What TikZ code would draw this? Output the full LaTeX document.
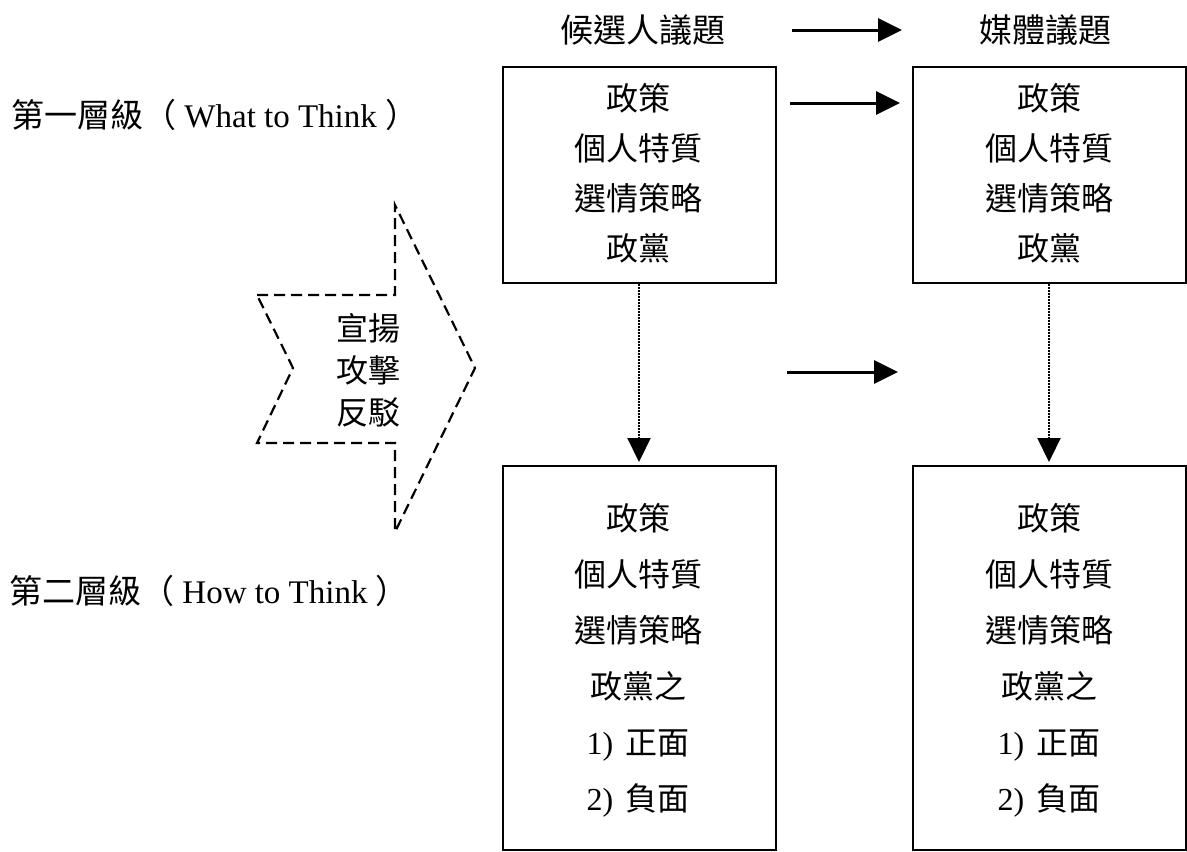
\documentclass[tikz,border=0pt]{standalone}
\usepackage{fontspec}
\setmainfont{Liberation Serif}
\newfontfamily\cjk{Noto Sans CJK TC}
\newfontfamily\lat{Liberation Serif}
\usetikzlibrary{arrows.meta}
\begin{document}
\begin{tikzpicture}[x=1pt,y=-1pt,
  box/.style={draw,line width=2pt,minimum width=273pt,inner sep=0pt},
  boxtxt/.style={font=\cjk\fontsize{32}{50}\selectfont,align=center,inner sep=0pt},
  boxtxtb/.style={font=\cjk\fontsize{32}{56}\selectfont,align=center,inner sep=0pt},
  head/.style={font=\cjk\fontsize{33}{40}\selectfont,inner sep=0pt},
  lvl/.style={font=\cjk\fontsize{33}{40}\selectfont,inner sep=0pt,anchor=west},
  solidarrow/.style={line width=3pt,-{Triangle[length=24pt,width=23pt]}},
  dotarrow/.style={line width=2.2pt,dash pattern=on 1.6pt off 1.4pt,-{Triangle[length=24pt,width=23pt]}},
  dashedshape/.style={line width=2.2pt,dash pattern=on 11pt off 6pt}
]
\useasboundingbox (0,0) rectangle (1187,852);

% headers
\node[head] (hcand) at (643,30) {候選人議題};
\node[head] (hmedia) at (1045,30) {媒體議題};
\coordinate (a1s) at (792,30);
\coordinate (a1e) at (902,30);
\draw[solidarrow] (a1s) -- (a1e);

% level labels
\node[lvl] (lvl1) at (11,115) {第一層級（{\lat\fontsize{33}{40}\selectfont\ What to Think\ }）};
\node[lvl] (lvl2) at (9,591) {第二層級（{\lat\fontsize{33}{40}\selectfont\ How to Think\ }）};

% first-level boxes
\node[box,minimum height=216pt] (b1) at (639,175) {};
\node[box,minimum height=216pt] (b2) at (1049,175) {};
\node[boxtxt] (t1) at (638,173) {政策\\個人特質\\選情策略\\政黨};
\node[boxtxt] (t2) at (1049,173) {政策\\個人特質\\選情策略\\政黨};

\coordinate (a2s) at (790,103);
\coordinate (a2e) at (900,103);
\draw[solidarrow] (a2s) -- (a2e);

% second-level boxes
\node[box,minimum height=384pt] (b3) at (639,658) {};
\node[box,minimum height=384pt] (b4) at (1049,658) {};
\node[boxtxtb] (t3) at (638,660) {政策\\個人特質\\選情策略\\政黨之\\{\lat 1)}\hspace{12pt}正面\\{\lat 2)}\hspace{12pt}負面};
\node[boxtxtb] (t4) at (1049,660) {政策\\個人特質\\選情策略\\政黨之\\{\lat 1)}\hspace{12pt}正面\\{\lat 2)}\hspace{12pt}負面};

\coordinate (a3s) at (787,372);
\coordinate (a3e) at (898,372);
\draw[solidarrow] (a3s) -- (a3e);

% dotted arrows
\draw[dotarrow,shorten >=3pt] (b1.south) -- (b3.north);
\draw[dotarrow,shorten >=3pt] (b2.south) -- (b4.north);

% dashed block arrow
\draw[dashedshape] (257,295) -- (395,295) -- (395,205) -- (475,368) -- (395,532) -- (395,443) -- (257,443) -- (293,368) -- cycle;
\node[font=\cjk\fontsize{32}{42}\selectfont,align=center,inner sep=0pt] (act) at (368,370) {宣揚\\攻擊\\反駁};
\end{tikzpicture}
\end{document}
